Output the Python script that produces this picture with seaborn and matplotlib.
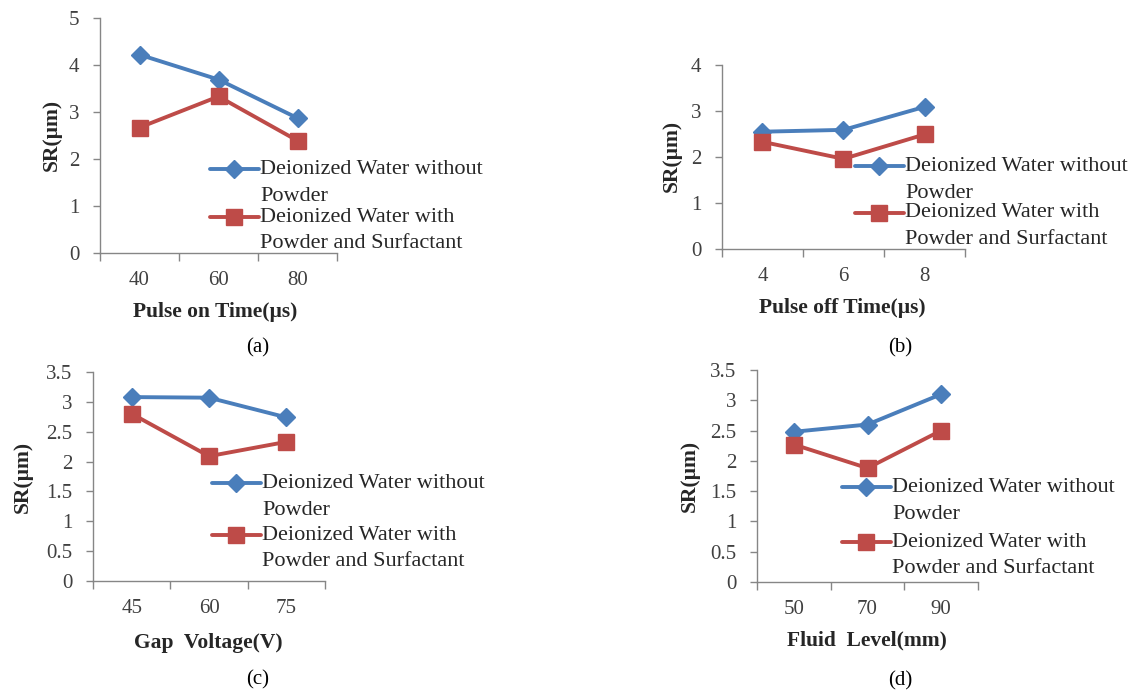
import numpy as np
import pandas as pd
import matplotlib
matplotlib.use('Agg')
import matplotlib.pyplot as plt
import seaborn as sns

# %%
# Surface roughness readings
pulse_on = ['40', '60', '80']
pulse_on_plain = [4.22, 3.69, 2.87]
pulse_on_powder = [2.67, 3.33, 2.39]

pulse_off = ['4', '6', '8']
pulse_off_plain = [2.55, 2.59, 3.09]
pulse_off_powder = [2.33, 1.96, 2.49]

gap_voltage = ['45', '60', '75']
gap_voltage_plain = [3.08, 3.07, 2.74]
gap_voltage_powder = [2.80, 2.09, 2.33]

fluid_level = ['50', '70', '90']
fluid_level_plain = [2.48, 2.60, 3.10]
fluid_level_powder = [2.27, 1.88, 2.50]

series_labels = ['Deionized Water without\nPowder',
                 'Deionized Water with\nPowder and Surfactant']

# %%
# Style
sns.set_theme(style='white')
plt.rcParams['font.family'] = ['Liberation Serif', 'DejaVu Serif']

W, H = 1141, 695
blue = '#4A7EBB'
red = '#BE4B48'
axis_gray = '#868686'
text_gray = '#404040'


def fig_rect(l, t, r, b):
    return [l / W, 1 - b / H, (r - l) / W, (b - t) / H]


def fig_xy(x, y):
    return x / W, 1 - y / H


# panel layout in pixels: axes box, x label, y label, caption, legend
panels = [
    dict(cats=pulse_on, plain=pulse_on_plain, powder=pulse_on_powder,
         ymax=5, ystep=1, xlabel='Pulse on Time(µs)', caption='(a)',
         box=(100, 18, 337, 253), xlab=(215, 312), ylab=(52, 135), cap=(258, 348),
         leg=(210, 160), legspace=0.1),
    dict(cats=pulse_off, plain=pulse_off_plain, powder=pulse_off_powder,
         ymax=4, ystep=1, xlabel='Pulse off Time(µs)', caption='(b)',
         box=(722, 65, 965, 249), xlab=(842, 308), ylab=(672, 156), cap=(900, 348),
         leg=(855, 157), legspace=0.04),
    dict(cats=gap_voltage, plain=gap_voltage_plain, powder=gap_voltage_powder,
         ymax=3.5, ystep=0.5, xlabel='Gap  Voltage(V)', caption='(c)',
         box=(93, 372, 325, 581), xlab=(208, 643), ylab=(23, 477), cap=(258, 680),
         leg=(212, 474), legspace=0.28),
    dict(cats=fluid_level, plain=fluid_level_plain, powder=fluid_level_powder,
         ymax=3.5, ystep=0.5, xlabel='Fluid  Level(mm)', caption='(d)',
         box=(757, 370, 978, 582), xlab=(867, 640), ylab=(690, 476), cap=(900, 681),
         leg=(842, 478), legspace=0.42),
]

fig = plt.figure(figsize=(W / 100, H / 100), dpi=100)

for p in panels:
    ax = fig.add_axes(fig_rect(*p['box']))

    sns.pointplot(x=p['cats'], y=p['plain'], color=blue, markers='D',
                  errorbar=None, linewidth=2.8, markersize=9,
                  markeredgewidth=1, ax=ax)
    sns.pointplot(x=p['cats'], y=p['powder'], color=red, markers='s',
                  errorbar=None, linewidth=2.8, markersize=12,
                  markeredgewidth=1, ax=ax)

    ax.set_xlim(-0.5, len(p['cats']) - 0.5)
    ax.set_ylim(0, p['ymax'])
    ax.set_yticks(np.arange(0, p['ymax'] + 0.001, p['ystep']))
    ax.yaxis.set_major_formatter(matplotlib.ticker.StrMethodFormatter('{x:g}'))
    ax.set_xticks(np.arange(-0.5, len(p['cats'])), minor=True)

    ax.tick_params(axis='y', length=5, width=1, color=axis_gray, pad=10,
                   labelsize=15, labelcolor=text_gray, left=True)
    ax.tick_params(axis='x', which='major', length=0, pad=13,
                   labelsize=15, labelcolor=text_gray)
    ax.tick_params(axis='x', which='minor', length=6, width=1,
                   color=axis_gray, bottom=True)

    for side in ['top', 'right']:
        ax.spines[side].set_visible(False)
    for side in ['left', 'bottom']:
        ax.spines[side].set_color(axis_gray)
        ax.spines[side].set_linewidth(1)

    ax.set_xlabel(p['xlabel'], fontsize=15.5, fontweight='bold', va='center')
    ax.xaxis.set_label_coords(*fig_xy(*p['xlab']), transform=fig.transFigure)
    ax.set_ylabel('SR(µm)', fontsize=15.5, fontweight='bold', va='center')
    ax.yaxis.set_label_coords(*fig_xy(*p['ylab']), transform=fig.transFigure)

    leg = ax.legend(handles=ax.lines[:2], labels=series_labels,
                    loc='upper left', bbox_to_anchor=fig_xy(*p['leg']),
                    bbox_transform=fig.transFigure, frameon=False,
                    fontsize=16, borderpad=0, borderaxespad=0,
                    handlelength=2.2, handleheight=1.2, handletextpad=0.05,
                    labelspacing=p['legspace'])
    for t in leg.get_texts():
        t.set_linespacing(1.54)
        t.set_color('#262626')
    # keep the handle level with the first line of each label
    for col in leg._legend_handle_box.get_children():
        for item in col.get_children():
            item.align = 'top'

    fig.text(*fig_xy(*p['cap']), p['caption'], ha='center', va='center',
             fontsize=15, color='black')

fig.savefig('out.png', dpi=100)
